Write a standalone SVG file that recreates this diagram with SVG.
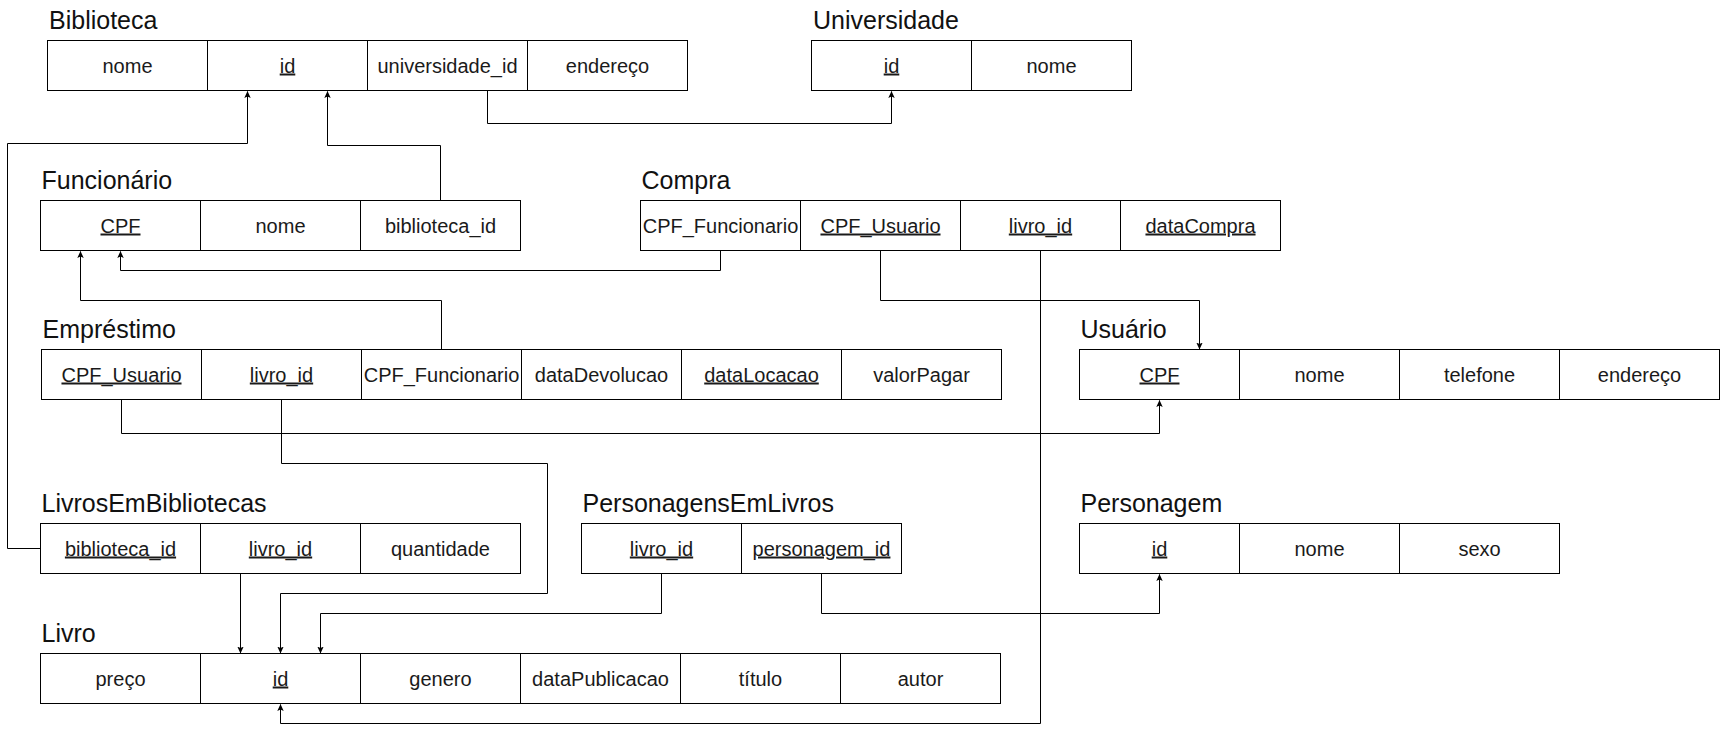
<svg xmlns="http://www.w3.org/2000/svg" width="1720" height="732" viewBox="0 0 1720 732">
<defs>
<style>
.cell{fill:#fff;stroke:#000;stroke-width:1}
.t{font-family:"Liberation Sans",Arial,sans-serif;font-size:25px;fill:#111}
.c{font-family:"Liberation Sans",Arial,sans-serif;font-size:20px;fill:#1a1a1a;text-anchor:middle}
.k{text-decoration:underline}
.e{fill:none;stroke:#000;stroke-width:1;marker-end:url(#arr)}
</style>
<marker id="arr" viewBox="0 0 7 7" markerWidth="7" markerHeight="7" refX="6.5" refY="3.5" orient="auto" markerUnits="userSpaceOnUse">
<path d="M0,0.3 L7,3.5 L0,6.7 L1.6,3.5 Z" fill="#000"/>
</marker>
</defs>
<rect width="1720" height="732" fill="#fff"/>

<g id="edges">
<path class="e" d="M487.5,90.5 V123.5 H891.5 V91.5"/>
<path class="e" d="M440.5,200.5 V145.5 H327.5 V91.5"/>
<path class="e" d="M40.5,548.5 H7.5 V143.5 H247.5 V91.5"/>
<path class="e" d="M720.5,250.5 V270.5 H120.5 V251.5"/>
<path class="e" d="M441.5,349.5 V300.5 H80.5 V251.5"/>
<path class="e" d="M880.5,250.5 V300.5 H1199.5 V349"/>
<path class="e" d="M1040.5,250.5 V723.5 H280.5 V704.5"/>
<path class="e" d="M121.5,399.5 V433.5 H1159.5 V400.5"/>
<path class="e" d="M281.5,399.5 V463.5 H547.5 V593.5 H280.5 V653"/>
<path class="e" d="M240.5,573.5 V653"/>
<path class="e" d="M661.5,573.5 V613.5 H320.5 V653"/>
<path class="e" d="M821.5,573.5 V613.5 H1159.5 V574.5"/>
</g>

<g id="biblioteca">
<text class="t" x="49" y="29">Biblioteca</text>
<rect class="cell" x="47.5" y="40.5" width="160" height="50"/>
<rect class="cell" x="207.5" y="40.5" width="160" height="50"/>
<rect class="cell" x="367.5" y="40.5" width="160" height="50"/>
<rect class="cell" x="527.5" y="40.5" width="160" height="50"/>
<text class="c" x="127.5" y="72.5">nome</text>
<text class="c k" x="287.5" y="72.5">id</text>
<text class="c" x="447.5" y="72.5">universidade_id</text>
<text class="c" x="607.5" y="72.5">endereço</text>
</g>

<g id="universidade">
<text class="t" x="813" y="29">Universidade</text>
<rect class="cell" x="811.5" y="40.5" width="160" height="50"/>
<rect class="cell" x="971.5" y="40.5" width="160" height="50"/>
<text class="c k" x="891.5" y="72.5">id</text>
<text class="c" x="1051.5" y="72.5">nome</text>
</g>

<g id="funcionario">
<text class="t" x="41.5" y="189">Funcionário</text>
<rect class="cell" x="40.5" y="200.5" width="160" height="50"/>
<rect class="cell" x="200.5" y="200.5" width="160" height="50"/>
<rect class="cell" x="360.5" y="200.5" width="160" height="50"/>
<text class="c k" x="120.5" y="232.5">CPF</text>
<text class="c" x="280.5" y="232.5">nome</text>
<text class="c" x="440.5" y="232.5">biblioteca_id</text>
</g>

<g id="compra">
<text class="t" x="641.5" y="189">Compra</text>
<rect class="cell" x="640.5" y="200.5" width="160" height="50"/>
<rect class="cell" x="800.5" y="200.5" width="160" height="50"/>
<rect class="cell" x="960.5" y="200.5" width="160" height="50"/>
<rect class="cell" x="1120.5" y="200.5" width="160" height="50"/>
<text class="c" x="720.5" y="232.5">CPF_Funcionario</text>
<text class="c k" x="880.5" y="232.5">CPF_Usuario</text>
<text class="c k" x="1040.5" y="232.5">livro_id</text>
<text class="c k" x="1200.5" y="232.5">dataCompra</text>
</g>

<g id="emprestimo">
<text class="t" x="42.5" y="338">Empréstimo</text>
<rect class="cell" x="41.5" y="349.5" width="160" height="50"/>
<rect class="cell" x="201.5" y="349.5" width="160" height="50"/>
<rect class="cell" x="361.5" y="349.5" width="160" height="50"/>
<rect class="cell" x="521.5" y="349.5" width="160" height="50"/>
<rect class="cell" x="681.5" y="349.5" width="160" height="50"/>
<rect class="cell" x="841.5" y="349.5" width="160" height="50"/>
<text class="c k" x="121.5" y="381.5">CPF_Usuario</text>
<text class="c k" x="281.5" y="381.5">livro_id</text>
<text class="c" x="441.5" y="381.5">CPF_Funcionario</text>
<text class="c" x="601.5" y="381.5">dataDevolucao</text>
<text class="c k" x="761.5" y="381.5">dataLocacao</text>
<text class="c" x="921.5" y="381.5">valorPagar</text>
</g>

<g id="usuario">
<text class="t" x="1080.5" y="338">Usuário</text>
<rect class="cell" x="1079.5" y="349.5" width="160" height="50"/>
<rect class="cell" x="1239.5" y="349.5" width="160" height="50"/>
<rect class="cell" x="1399.5" y="349.5" width="160" height="50"/>
<rect class="cell" x="1559.5" y="349.5" width="160" height="50"/>
<text class="c k" x="1159.5" y="381.5">CPF</text>
<text class="c" x="1319.5" y="381.5">nome</text>
<text class="c" x="1479.5" y="381.5">telefone</text>
<text class="c" x="1639.5" y="381.5">endereço</text>
</g>

<g id="livrosembibliotecas">
<text class="t" x="41.5" y="512">LivrosEmBibliotecas</text>
<rect class="cell" x="40.5" y="523.5" width="160" height="50"/>
<rect class="cell" x="200.5" y="523.5" width="160" height="50"/>
<rect class="cell" x="360.5" y="523.5" width="160" height="50"/>
<text class="c k" x="120.5" y="555.5">biblioteca_id</text>
<text class="c k" x="280.5" y="555.5">livro_id</text>
<text class="c" x="440.5" y="555.5">quantidade</text>
</g>

<g id="personagensemlivros">
<text class="t" x="582.5" y="512">PersonagensEmLivros</text>
<rect class="cell" x="581.5" y="523.5" width="160" height="50"/>
<rect class="cell" x="741.5" y="523.5" width="160" height="50"/>
<text class="c k" x="661.5" y="555.5">livro_id</text>
<text class="c k" x="821.5" y="555.5">personagem_id</text>
</g>

<g id="personagem">
<text class="t" x="1080.5" y="512">Personagem</text>
<rect class="cell" x="1079.5" y="523.5" width="160" height="50"/>
<rect class="cell" x="1239.5" y="523.5" width="160" height="50"/>
<rect class="cell" x="1399.5" y="523.5" width="160" height="50"/>
<text class="c k" x="1159.5" y="555.5">id</text>
<text class="c" x="1319.5" y="555.5">nome</text>
<text class="c" x="1479.5" y="555.5">sexo</text>
</g>

<g id="livro">
<text class="t" x="41.5" y="642">Livro</text>
<rect class="cell" x="40.5" y="653.5" width="160" height="50"/>
<rect class="cell" x="200.5" y="653.5" width="160" height="50"/>
<rect class="cell" x="360.5" y="653.5" width="160" height="50"/>
<rect class="cell" x="520.5" y="653.5" width="160" height="50"/>
<rect class="cell" x="680.5" y="653.5" width="160" height="50"/>
<rect class="cell" x="840.5" y="653.5" width="160" height="50"/>
<text class="c" x="120.5" y="685.5">preço</text>
<text class="c k" x="280.5" y="685.5">id</text>
<text class="c" x="440.5" y="685.5">genero</text>
<text class="c" x="600.5" y="685.5">dataPublicacao</text>
<text class="c" x="760.5" y="685.5">título</text>
<text class="c" x="920.5" y="685.5">autor</text>
</g>
</svg>
